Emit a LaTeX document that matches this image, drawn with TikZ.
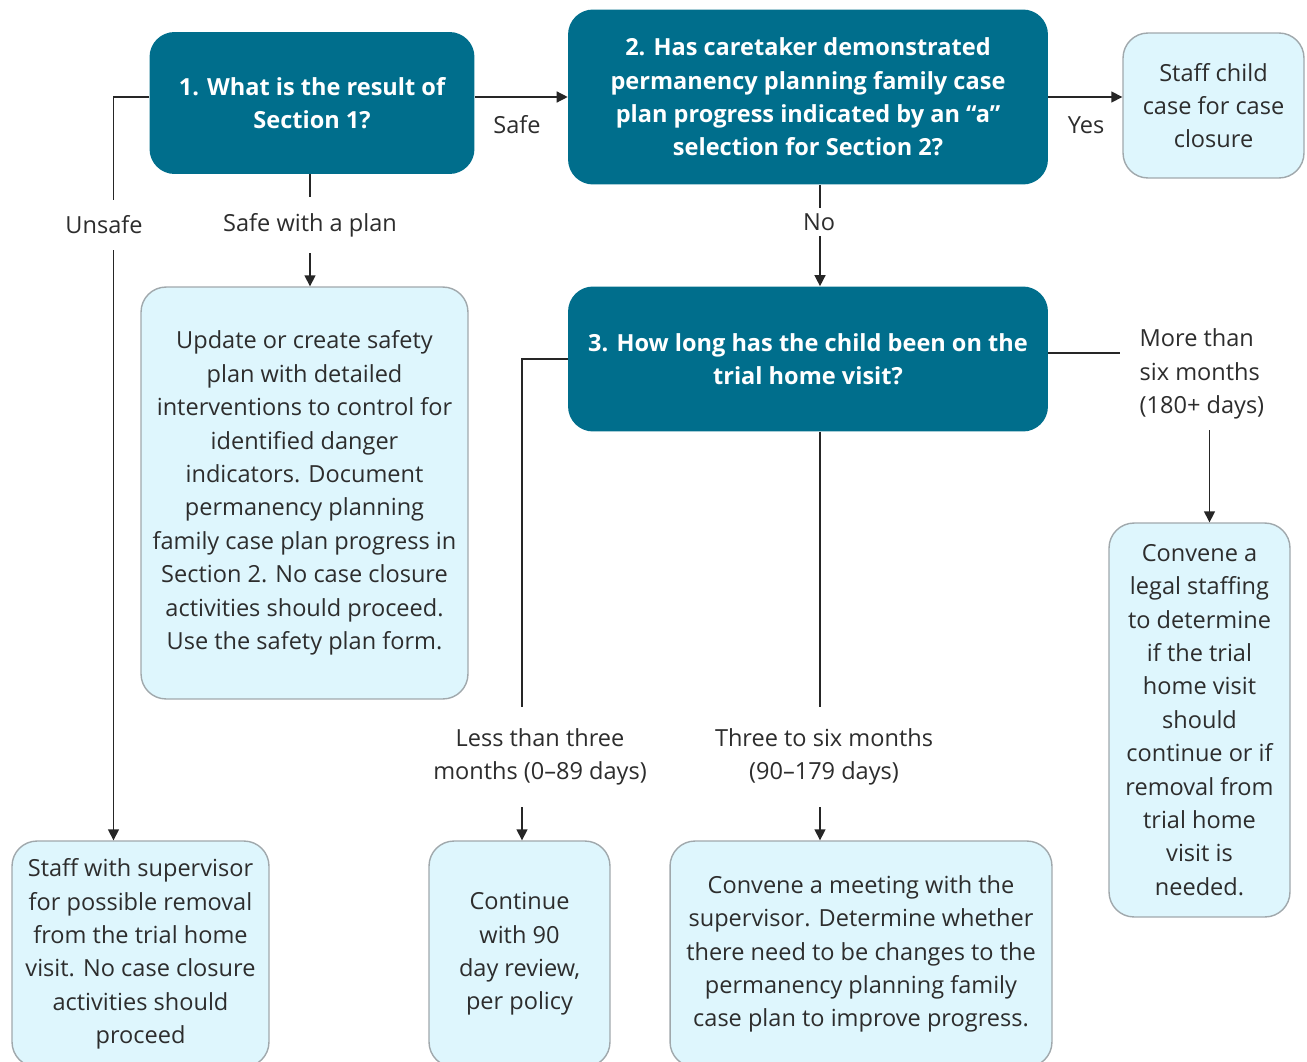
\documentclass[tikz,border=0pt]{standalone}
\usepackage{fontspec}
\setmainfont{Open Sans}
\usetikzlibrary{arrows.meta, positioning, calc}
\definecolor{qteal}{RGB}{0,110,140}
\definecolor{ablue}{RGB}{222,246,253}
\definecolor{aedge}{RGB}{160,168,172}
\definecolor{txtgray}{RGB}{45,45,45}

\begin{document}
\begin{tikzpicture}[
    x=0.02cm, y=-0.02cm,
    question/.style={rounded corners=0.5cm, fill=qteal, text=white, align=center, font=\bfseries\fontsize{13.4}{19}\selectfont},
    action/.style={rounded corners=0.5cm, draw=aedge, line width=0.8pt, fill=ablue, text=txtgray, align=center, font=\fontsize{13.4}{19}\selectfont},
    lbl/.style={fill=white, text=txtgray, align=center, font=\fontsize{13.4}{19}\selectfont, inner xsep=2pt},
    arrow/.style={-{Triangle[length=2.2mm, width=2.2mm]}, line width=0.8pt, black!85}
]
\useasboundingbox (0,0) rectangle (1307,1061);
\clip (0,0) rectangle (1307,1061);

% questions
\node[question, minimum width=6.5cm, minimum height=2.84cm] (q1) at (312,103) {1. What is the result of\\ Section 1?};
\node[question, minimum width=9.6cm, minimum height=3.5cm] (q2) at (808,97) {2. Has caretaker demonstrated\\ permanency planning family case\\ plan progress indicated by an “a”\\ selection for Section 2?};
\node[question, minimum width=9.6cm, minimum height=2.9cm] (q3) at (808,359) {3. How long has the child been on the\\ trial home visit?};

% actions
\node[action, minimum width=3.62cm, minimum height=2.9cm] (closure) at (1213.5,105.5) {Staff child\\ case for case\\ closure};
\node[action, minimum width=6.54cm, minimum height=8.24cm] (safety) at (304.5,493) {Update or create safety\\ plan with detailed\\ interventions to control for\\ identified danger\\ indicators. Document\\ permanency planning\\ family case plan progress in\\ Section 2. No case closure\\ activities should proceed.\\ Use the safety plan form.};
\node[action, minimum width=3.62cm, minimum height=7.88cm] (legal) at (1199.5,720) {Convene a\\ legal staffing\\ to determine\\ if the trial\\ home visit\\ should\\ continue or if\\ removal from\\ trial home\\ visit is\\ needed.};
\node[action, minimum width=5.14cm, minimum height=4.52cm] (sup) at (140.5,954) {Staff with supervisor\\ for possible removal\\ from the trial home\\ visit. No case closure\\ activities should\\ proceed};
\node[action, minimum width=3.62cm, minimum height=4.52cm] (cont) at (519.5,954) {Continue\\ with 90\\ day review,\\ per policy};
\node[action, minimum width=7.64cm, minimum height=4.52cm] (meet) at (861,954) {Convene a meeting with the\\ supervisor. Determine whether\\ there need to be changes to the\\ permanency planning family\\ case plan to improve progress.};

% connectors
\draw[arrow] ($(q1.west)+(0,-6)$) -| ($(sup.north)+(-27,0)$);
\draw[arrow] ($(q1.east)+(0,-6)$) -- ($(q2.west)+(0,0)$);
\draw[arrow] ($(q1.south)+(-2,0)$) -- ($(q1.south |- safety.north)+(-2,0)$);
\draw[arrow] (q2.east) -- (q2.east -| closure.west);
\draw[arrow] ($(q2.south)+(12,0)$) -- ($(q3.north)+(12,0)$);
\draw[arrow] (q3.west) -| ($(cont.north)+(2.5,0)$);
\draw[arrow] ($(q3.south)+(12,0)$) -- ($(q3.south |- meet.north)+(12,0)$);
\draw[arrow] ($(q3.east)+(0,-6)$) -| ($(legal.north)+(10,0)$);

% labels
\node[lbl, inner ysep=9pt] (unsafe) at (104,225) {Unsafe};
\node[lbl, inner sep=1pt] (safe) at (517,125) {Safe};
\node[lbl, inner ysep=9pt] (withplan) at (310,225) {Safe with a plan};
\node[lbl, inner sep=1pt] (yes) at (1086,125) {Yes};
\node[lbl, inner ysep=3pt] (no) at (819,222) {No};
\node[lbl, inner ysep=12pt] (less) at (540,757) {Less than three\\ months (0–89 days)};
\node[lbl, inner ysep=12pt] (three) at (824,757) {Three to six months\\ (90–179 days)};
\node[lbl, anchor=west, align=left, inner xsep=11pt, inner ysep=6pt] (more) at (1120,374) {More than\\ six months\\ (180+ days)};
\end{tikzpicture}
\end{document}
